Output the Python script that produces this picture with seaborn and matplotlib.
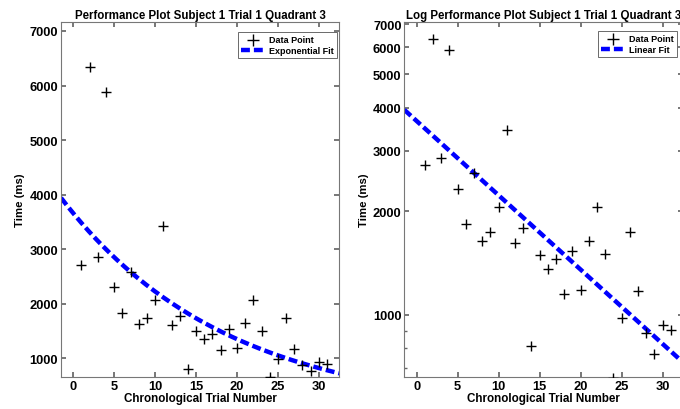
import numpy as np
import pandas as pd
import matplotlib
matplotlib.use("Agg")
import matplotlib.pyplot as plt
import matplotlib.ticker as mticker
import seaborn as sns

trial = list(range(1, 32))
time_ms = [2720, 6345, 2860, 5880, 2315, 1832, 2584, 1636, 1740, 2064,
           3434, 1618, 1783, 810, 1495, 1361, 1453, 1147, 1532, 1183,
           1642, 2064, 1508, 657, 982, 1746, 1171, 884, 768, 933, 902]

# Parameter der Exponential-Anpassung
fit_a = 3660.0
fit_b = -0.0497

x_range = (-1.5, 32.5)
y_lim_lin = (660, 7170)
y_lim_log = (660, 7110)
y_ticks = [1000, 2000, 3000, 4000, 5000, 6000, 7000]
x_ticks = [0, 5, 10, 15, 20, 25, 30]

sns.set_theme(style="ticks")
plt.rcParams['font.family'] = ['Liberation Sans', 'DejaVu Sans']
plt.rcParams['font.weight'] = 'bold'
plt.rcParams['axes.labelweight'] = 'bold'
plt.rcParams['axes.titleweight'] = 'bold'
plt.rcParams['text.color'] = 'black'
plt.rcParams['axes.labelcolor'] = 'black'
plt.rcParams['xtick.labelcolor'] = 'black'
plt.rcParams['ytick.labelcolor'] = 'black'

data = pd.DataFrame({'trial': trial, 'time': time_ms})
fit_x = np.linspace(x_range[0], x_range[1], 200)
fit = pd.DataFrame({'trial': fit_x, 'time': fit_a * np.exp(fit_b * fit_x)})

fig = plt.figure(figsize=(6.8, 4.1), dpi=100)
ax1 = fig.add_axes([0.0897, 0.078, 0.4093, 0.8666])
ax2 = fig.add_axes([0.5946, 0.078, 0.4099, 0.8666])


def style_axes(ax, title, legend_label, anchor):
    sns.scatterplot(data=data, x='trial', y='time', marker='+', color='black',
                    s=60, linewidth=1.0, ax=ax, label='Data Point', zorder=3)
    sns.lineplot(data=fit, x='trial', y='time', color='#0000ff', linewidth=3.2,
                 ax=ax, label=legend_label, zorder=2)
    ax.lines[-1].set_dashes((2.0, 0.9))
    ax.set_xlim(*x_range)
    ax.set_xticks(x_ticks)
    ax.set_title(title, fontsize=8.3, fontweight='bold', pad=3, color='black')
    ax.set_xlabel('Chronological Trial Number', fontsize=8.4, labelpad=-0.5)
    ax.set_ylabel('Time (ms)', fontsize=8.2, labelpad=3)
    ax.tick_params(which='both', direction='in', top=True, right=True,
                   labelsize=9.3, color='#666666')
    ax.tick_params(axis='y', pad=2)
    ax.tick_params(axis='x', pad=2.5)
    ax.tick_params(which='major', length=3.5)
    ax.tick_params(which='minor', length=2)
    for lab in ax.get_xticklabels() + ax.get_yticklabels():
        lab.set_fontweight('bold')
    for sp in ax.spines.values():
        sp.set_visible(True)
        sp.set_color('#777777')
        sp.set_linewidth(0.8)
    leg = ax.legend(loc='upper right', bbox_to_anchor=anchor, borderaxespad=0,
                    frameon=True, fancybox=False, edgecolor='#444444',
                    handlelength=2.6, handletextpad=0.5, borderpad=0.35,
                    labelspacing=0.2, markerscale=1.2,
                    prop={'weight': 'bold', 'size': 6.5})
    leg.get_frame().set_linewidth(0.7)


style_axes(ax1, 'Performance Plot Subject 1 Trial 1 Quadrant 3', 'Exponential Fit',
           (0.992, 0.971))
ax1.set_ylim(*y_lim_lin)
ax1.set_yticks(y_ticks)

style_axes(ax2, 'Log Performance Plot Subject 1 Trial 1 Quadrant 3', 'Linear Fit',
           (0.978, 0.973))
ax2.set_yscale('log')
ax2.set_ylim(*y_lim_log)
ax2.yaxis.set_major_locator(mticker.FixedLocator(y_ticks))
ax2.yaxis.set_major_formatter(mticker.FixedFormatter([str(t) for t in y_ticks]))
ax2.yaxis.set_minor_locator(mticker.FixedLocator([700, 800, 900]))
ax2.yaxis.set_minor_formatter(mticker.NullFormatter())
for lab in ax2.get_yticklabels():
    lab.set_fontweight('bold')

fig.savefig('out.png', dpi=100)
